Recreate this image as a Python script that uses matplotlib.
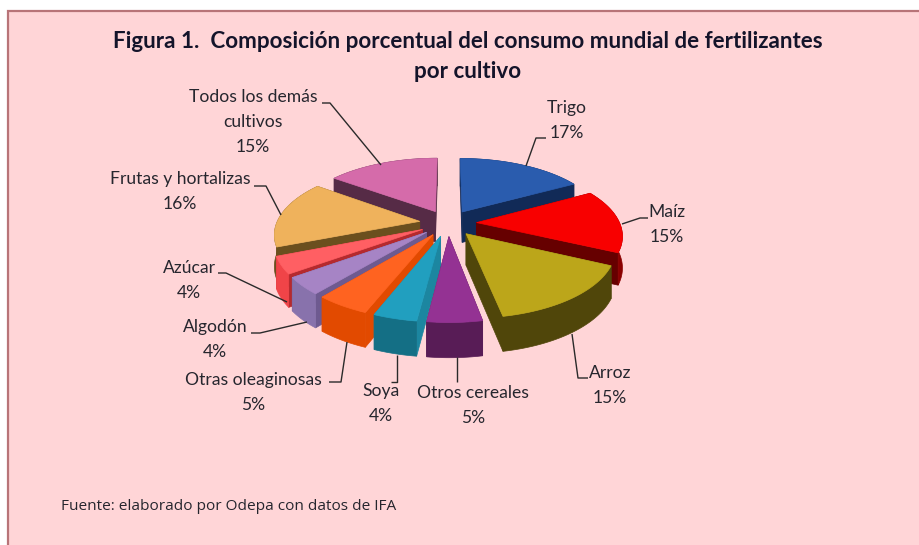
import numpy as np
import matplotlib
matplotlib.use("Agg")
import matplotlib.pyplot as plt
from matplotlib.patches import Polygon, Rectangle

# Data
categories = ["Trigo", "Maíz", "Arroz", "Otros cereales", "Soya", "Otras oleaginosas",
              "Algodón", "Azúcar", "Frutas y hortalizas", "Todos los demás cultivos"]
shares = [17, 15, 15, 5, 4, 5, 4, 4, 16, 15]

top_colors = ["#2A5CAE", "#F80000", "#BCA61A", "#943293", "#219FBF",
              "#FF6320", "#A684C5", "#FF5F63", "#EFB25C", "#D56BAA"]
side_colors = ["#112A57", "#660000", "#50460A", "#581C56", "#1C86A0",
               "#E24A00", "#6E5A90", "#B52A2E", "#6B4F1E", "#562B46"]
outer_colors = ["#112A57", "#8A0000", "#50460A", "#581C56", "#146F85",
                "#E24A00", "#8872AC", "#F04448", "#6B4F1E", "#562B46"]

# label lines: text block, centre x, y of first line
label_lines = [["Todos los demás", "cultivos"], ["Frutas y hortalizas"]]
label_pos = [(567, 108), (667, 212), (610, 373), (473, 393), (381, 391),
             (253, 380), (215, 327), (189, 268), (180, 179), (253, 97)]
leaders = [[(526, 166), (536, 138), (546, 138)],
           [(622, 224), (640, 218), (648, 218)],
           [(572, 334), (578, 378), (588, 378)],
           [(457, 357), (457, 382)],
           [(397, 355), (397, 382), (391, 382)],
           [(347, 342), (341, 382), (329, 382)],
           [(307, 322), (260, 333), (251, 333)],
           [(287, 302), (226, 273), (218, 273)],
           [(281, 215), (266, 186), (254, 186)],
           [(381, 165), (330, 103), (322, 103)]]

# 3D look of the pie, in pixels
CX, CY = 448, 223
RX, RY = 143, 66
PERSP = 0.17
DEPTH = 31
EXPLODE = 0.2


def project(u, v, drop=0.0):
    """Project disc coordinates (v pointing back) to pixel coordinates."""
    w = 1 + PERSP * v
    return CX + RX * u / w, CY - RY * v / w + drop * DEPTH / (1 + 0.1 * v)


def add_poly(ax, xs, ys, color, zorder):
    ax.add_patch(Polygon(np.column_stack([xs, ys]), closed=True, facecolor=color,
                         edgecolor=color, linewidth=0.5, zorder=zorder))


fig = plt.figure(figsize=(9.19, 5.45), dpi=100, facecolor="white")
ax = fig.add_axes([0, 0, 1, 1])
ax.set_xlim(0, 919)
ax.set_ylim(545, 0)
ax.axis("off")

# chart frame
ax.add_patch(Rectangle((8, 10.5), 930, 560, facecolor="#FFD5D7", edgecolor="#B87478", linewidth=1.6, zorder=0))

fractions = np.array(shares) / sum(shares)
starts = 2 * np.pi * np.concatenate([[0], np.cumsum(fractions)[:-1]])
ends = 2 * np.pi * np.cumsum(fractions)
mids = (starts + ends) / 2

# paint from the back of the pie to the front
order = np.argsort(-np.cos(mids))
for rank, i in enumerate(order):
    ou, ov = EXPLODE * np.sin(mids[i]), EXPLODE * np.cos(mids[i])
    t = np.linspace(starts[i], ends[i], 60)
    u = ou + np.sin(t)
    v = ov + np.cos(t)
    z = 10 + rank * 5

    # radial side walls
    for a in (starts[i], ends[i]):
        eu = np.array([ou, ou + np.sin(a)])
        ev = np.array([ov, ov + np.cos(a)])
        x0, y0 = project(eu, ev)
        x1, y1 = project(eu, ev, 1.0)
        add_poly(ax, [x0[0], x0[1], x1[1], x1[0]], [y0[0], y0[1], y1[1], y1[0]], side_colors[i], z)

    # outer wall
    x0, y0 = project(u, v)
    x1, y1 = project(u, v, 1.0)
    add_poly(ax, np.r_[x0, x1[::-1]], np.r_[y0, y1[::-1]], outer_colors[i], z + 1)

    # top face
    ax_, ay_ = project(ou, ov)
    add_poly(ax, np.r_[ax_, x0], np.r_[ay_, y0], top_colors[i], z + 2)

# leader lines
for pts in leaders:
    xs, ys = zip(*pts)
    ax.plot(xs, ys, color="#2A2A2A", linewidth=1.0, zorder=100, solid_capstyle="butt")

# data labels
for i, name in enumerate(categories):
    lines = next((l for l in label_lines if " ".join(l) == name), [name]) + [f"{shares[i]}%"]
    lx, ly = label_pos[i]
    for k, line in enumerate(lines):
        ax.text(lx, ly + 25 * k, line, ha="center", va="center", family="Lato",
                fontsize=12.6, color="#26262E", zorder=110)

ax.text(468, 41.5, "Figura 1.  Composición porcentual del consumo mundial de fertilizantes", ha="center", va="center",
        family="Lato", fontweight="bold", fontsize=16.1, color="#14142A")
ax.text(468, 71.5, "por cultivo", ha="center", va="center",
        family="Lato", fontweight="bold", fontsize=16.1, color="#14142A")
ax.text(61, 506, "Fuente: elaborado por Odepa con datos de IFA", ha="left", va="center",
        family="Open Sans", fontsize=11.1, color="#26262E")

fig.savefig("out.png", dpi=100)
